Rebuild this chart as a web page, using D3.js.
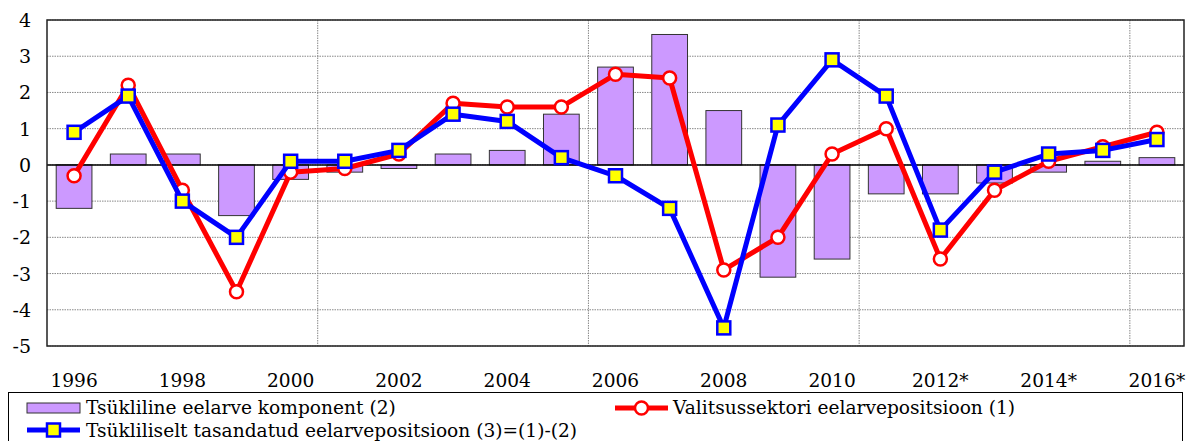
<html>
    <head>
        <title>Eelarvepositsioon</title>
        <script type="text/javascript" src="https://cdn.jsdelivr.net/npm/d3@7"></script>
        <style type="text/css">
            body { margin: 0; background: #fff; }
            svg text { font-family: "DejaVu Serif", serif; fill: #000; }
        </style>
    </head>
    <body>
        <script type="text/javascript">

            var years = ['1996','1997','1998','1999','2000','2001','2002','2003','2004','2005',
                         '2006','2007','2008','2009','2010','2011','2012','2013','2014','2015','2016'];
            var yearLabels = ['1996','','1998','','2000','','2002','','2004','',
                              '2006','','2008','','2010','','2012*','','2014*','','2016*'];
            // (2) cyclical component
            var cyclical = [-1.2, 0.3, 0.3, -1.4, -0.4, -0.2, -0.1, 0.3, 0.4, 1.4,
                            2.7, 3.6, 1.5, -3.1, -2.6, -0.8, -0.8, -0.5, -0.2, 0.1, 0.2];
            // (1) general government budget position
            var govBalance = [-0.3, 2.2, -0.7, -3.5, -0.2, -0.1, 0.3, 1.7, 1.6, 1.6,
                              2.5, 2.4, -2.9, -2.0, 0.3, 1.0, -2.6, -0.7, 0.1, 0.5, 0.9];
            // (3) = (1) - (2)
            var adjusted = [0.9, 1.9, -1.0, -2.0, 0.1, 0.1, 0.4, 1.4, 1.2, 0.2,
                            -0.3, -1.2, -4.5, 1.1, 2.9, 1.9, -1.8, -0.2, 0.3, 0.4, 0.7];
            var yTicks = [-5, -4, -3, -2, -1, 0, 1, 2, 3, 4];

            var legendLabels = ['Tsükliline eelarve komponent (2)',
                                'Valitsussektori eelarvepositsioon (1)',
                                'Tsükliliselt tasandatud eelarvepositsioon (3)=(1)-(2)'];

            var width = 1186, height = 441;
            var plot = {left: 47, right: 1184, top: 20, bottom: 346};
            var fontSize = '18.6px';

            var svg = d3.select('body').append('svg')
                .attr('width', width)
                .attr('height', height);

            var xScale = d3.scaleBand()
                .domain(years)
                .range([plot.left, plot.right])
                .paddingInner(0.34)
                .paddingOuter(0.17);

            var yScale = d3.scaleLinear()
                .domain([-5, 4])
                .range([plot.bottom, plot.top]);

            var step = xScale.step();
            function cx(i) { return xScale(years[i]) + xScale.bandwidth() / 2; }

            // horizontal grid
            svg.append('g').selectAll('line')
                .data(yTicks)
                .enter().append('line')
                    .attr('x1', plot.left).attr('x2', plot.right)
                    .attr('y1', function(d) { return yScale(d); })
                    .attr('y2', function(d) { return yScale(d); })
                    .attr('stroke', '#888')
                    .attr('stroke-width', 1)
                    .attr('stroke-dasharray', '1.5,1');

            // vertical grid every 5 years
            var vGrid = years.filter(function(d, i) { return i > 0 && i % 5 === 0; });
            svg.append('g').selectAll('line')
                .data(vGrid)
                .enter().append('line')
                    .attr('x1', function(d) { return xScale(d) - step * xScale.paddingInner() / 2; })
                    .attr('x2', function(d) { return xScale(d) - step * xScale.paddingInner() / 2; })
                    .attr('y1', plot.top).attr('y2', plot.bottom)
                    .attr('stroke', '#888')
                    .attr('stroke-width', 1)
                    .attr('stroke-dasharray', '1.5,1');

            // bars
            svg.append('g').selectAll('rect')
                .data(cyclical)
                .enter().append('rect')
                    .attr('x', function(d, i) { return xScale(years[i]); })
                    .attr('width', xScale.bandwidth())
                    .attr('y', function(d) { return yScale(Math.max(0, d)); })
                    .attr('height', function(d) { return Math.abs(yScale(d) - yScale(0)); })
                    .attr('fill', '#cc99ff')
                    .attr('stroke', '#333')
                    .attr('stroke-width', 1);

            // zero line
            svg.append('line')
                .attr('x1', plot.left).attr('x2', plot.right)
                .attr('y1', yScale(0)).attr('y2', yScale(0))
                .attr('stroke', '#000').attr('stroke-width', 1.5);

            // frame
            svg.append('rect')
                .attr('x', plot.left).attr('y', plot.top)
                .attr('width', plot.right - plot.left)
                .attr('height', plot.bottom - plot.top)
                .attr('fill', 'none')
                .attr('stroke', '#222')
                .attr('stroke-width', 1.5);

            var line = d3.line()
                .x(function(d, i) { return cx(i); })
                .y(function(d) { return yScale(d); });

            // red series
            svg.append('path')
                .datum(govBalance)
                .attr('d', line)
                .attr('fill', 'none')
                .attr('stroke', '#ff0000')
                .attr('stroke-width', 5)
                .attr('stroke-linejoin', 'round');
            svg.append('g').selectAll('circle')
                .data(govBalance)
                .enter().append('circle')
                    .attr('cx', function(d, i) { return cx(i); })
                    .attr('cy', function(d) { return yScale(d); })
                    .attr('r', 6.5)
                    .attr('fill', '#fff')
                    .attr('stroke', '#ff0000')
                    .attr('stroke-width', 2.5);

            // blue series
            svg.append('path')
                .datum(adjusted)
                .attr('d', line)
                .attr('fill', 'none')
                .attr('stroke', '#0000ff')
                .attr('stroke-width', 5)
                .attr('stroke-linejoin', 'round');
            svg.append('g').selectAll('rect')
                .data(adjusted)
                .enter().append('rect')
                    .attr('x', function(d, i) { return cx(i) - 6.5; })
                    .attr('y', function(d) { return yScale(d) - 6.5; })
                    .attr('width', 13).attr('height', 13)
                    .attr('fill', '#ffff00')
                    .attr('stroke', '#0000ff')
                    .attr('stroke-width', 2.5);

            // y axis labels
            svg.append('g').selectAll('text')
                .data(yTicks)
                .enter().append('text')
                    .attr('x', 31)
                    .attr('y', function(d) { return yScale(d) + 7; })
                    .attr('text-anchor', 'end')
                    .style('font-size', '19px')
                    .text(function(d) { return d; });

            // x axis labels
            svg.append('g').selectAll('text')
                .data(yearLabels)
                .enter().append('text')
                    .attr('x', function(d, i) { return cx(i); })
                    .attr('y', 387)
                    .attr('text-anchor', 'middle')
                    .style('font-size', fontSize)
                    .text(function(d) { return d; });

            // legend
            var legend = svg.append('g');
            legend.append('rect')
                .attr('x', 8.5).attr('y', 392.5)
                .attr('width', 1174).attr('height', 60)
                .attr('fill', '#fff')
                .attr('stroke', '#000')
                .attr('stroke-width', 1);

            legend.append('rect')
                .attr('x', 27).attr('y', 403)
                .attr('width', 53).attr('height', 10)
                .attr('fill', '#cc99ff').attr('stroke', '#333').attr('stroke-width', 1);
            legend.append('text')
                .attr('x', 86).attr('y', 414)
                .style('font-size', fontSize)
                .text(legendLabels[0]);

            legend.append('line')
                .attr('x1', 615).attr('x2', 668).attr('y1', 408).attr('y2', 408)
                .attr('stroke', '#ff0000').attr('stroke-width', 5);
            legend.append('circle')
                .attr('cx', 641.5).attr('cy', 408).attr('r', 6.5)
                .attr('fill', '#fff').attr('stroke', '#ff0000').attr('stroke-width', 2.5);
            legend.append('text')
                .attr('x', 673).attr('y', 414)
                .style('font-size', fontSize)
                .text(legendLabels[1]);

            legend.append('line')
                .attr('x1', 27).attr('x2', 80).attr('y1', 430).attr('y2', 430)
                .attr('stroke', '#0000ff').attr('stroke-width', 5);
            legend.append('rect')
                .attr('x', 47).attr('y', 423.5).attr('width', 13).attr('height', 13)
                .attr('fill', '#ffff00').attr('stroke', '#0000ff').attr('stroke-width', 2.5);
            legend.append('text')
                .attr('x', 86).attr('y', 437)
                .style('font-size', fontSize)
                .text(legendLabels[2]);

        </script>
    </body>
</html>
